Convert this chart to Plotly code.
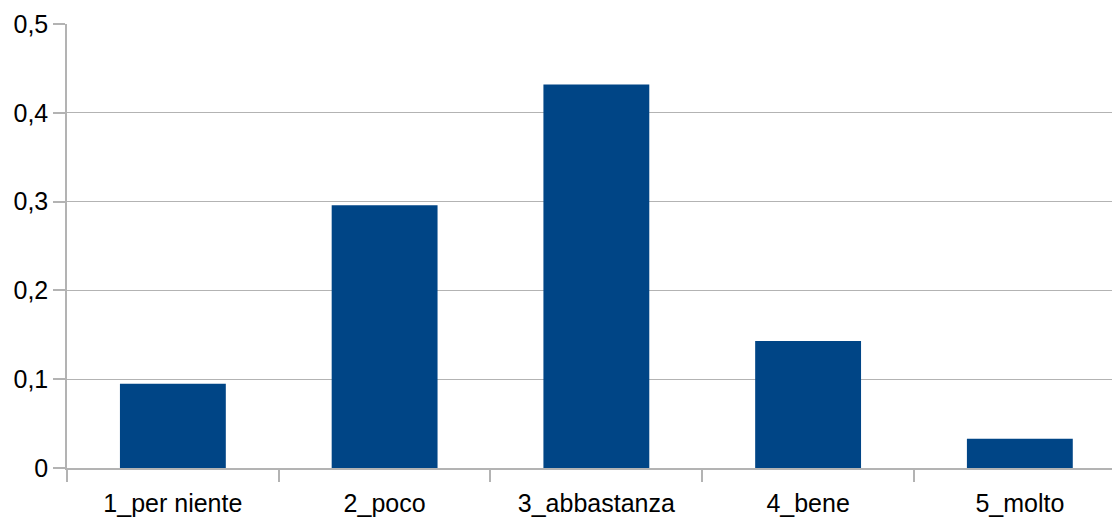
import plotly.graph_objects as go

categories = ["1_per niente", "2_poco", "3_abbastanza", "4_bene", "5_molto"]
values = [0.095, 0.296, 0.432, 0.143, 0.033]

fig = go.Figure(go.Bar(x=categories, y=values, marker_color="#004586", marker_line_width=0))

axis_col = "#b3b3b3"
# page body has an 8px default margin; compensate so the plot sits at the reference position
fig.update_layout(
    width=1112, height=509,
    margin=dict(l=59, r=0, t=16, b=49, autoexpand=False),
    paper_bgcolor="white", plot_bgcolor="white",
    separators=", ",
    bargap=0.5,
    showlegend=False,
    font=dict(family="Liberation Sans, Arial, sans-serif", size=25, color="#000000"),
    xaxis=dict(
        automargin=False,
        range=[-0.5, 4.473],
        showline=True, linecolor=axis_col, linewidth=1.5,
        ticks="outside", tickson="boundaries", ticklen=12, tickcolor=axis_col, tickwidth=1.5,
        ticklabelstandoff=12,
        showgrid=False, zeroline=False,
    ),
    yaxis=dict(
        automargin=False,
        range=[0, 0.5], dtick=0.1, tick0=0,
        showline=True, linecolor=axis_col, linewidth=1.5,
        ticks="outside", ticklen=12, tickcolor=axis_col, tickwidth=1.5,
        ticklabelstandoff=0,
        showgrid=True, gridcolor=axis_col, gridwidth=1.2,
        zeroline=False,
    ),
)

fig.write_html("out.html")
